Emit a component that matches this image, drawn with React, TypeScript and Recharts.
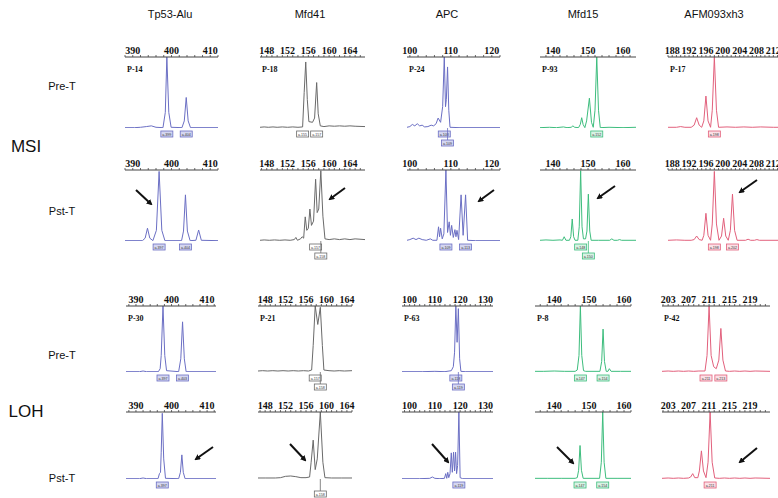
import React from 'react';
import { LineChart, Line, XAxis, YAxis, ReferenceDot } from 'recharts';

type Pt = [number, number];

// ---------- text ----------
const markers = ['Tp53-Alu', 'Mfd41', 'APC', 'Mfd15', 'AFM093xh3'];
const rowLabels = ['Pre-T', 'Pst-T', 'Pre-T', 'Pst-T'];
const groupLabels = ['MSI', 'LOH'];
const patients = ['P-14', 'P-18', 'P-24', 'P-93', 'P-17', 'P-30', 'P-21', 'P-63', 'P-8', 'P-42'];

// ---------- tick labels ----------
const ticksTp53 = [390, 400, 410];
const ticksMfd41 = [148, 152, 156, 160, 164];
const ticksApcMsi = [100, 110, 120];
const ticksApcLoh = [100, 110, 120, 130];
const ticksMfd15 = [140, 150, 160];
const ticksAfmMsi = [188, 192, 196, 200, 204, 208, 212];
const ticksAfmLoh = [203, 207, 211, 215, 219];

// ---------- traces (size in bp, relative fluorescence 0-100) ----------
const msiPreTp53: Pt[] = [[388,0.5],[390.5,0.5],[392,1],[393.5,2],[394.8,3],[396,1],[397.8,0.5],[398.4,22],[398.8,100],[399.3,22],[399.9,1],[402.7,0.5],[403.3,10],[403.8,43],[404.3,10],[404.9,0.5],[412,0.5]];
const msiPreMfd41: Pt[] = [[146.7,1],[147.5,1.5],[148.3,1],[149.2,1.5],[150,1],[151,1.5],[152,1],[153,1.5],[154,1],[154.9,1.5],[155.2,50],[155.5,93],[155.8,40],[156.1,9],[156.8,8],[157.2,14],[157.6,64],[157.9,20],[158.3,3],[159,2],[160,3],[161,2.5],[162,3],[163,2.5],[164,3],[165,2.5],[166.9,2]];
const msiPreApc: Pt[] = [[99.3,1],[100,2],[100.6,5],[101.2,3],[101.8,6],[102.4,3],[103,4],[103.6,1.5],[104.4,2],[105.2,4],[105.8,3],[106.4,6],[106.9,14],[107.5,8],[108.0,30],[108.4,100],[108.7,30],[108.9,40],[109.2,86],[109.5,25],[109.8,1],[112,0.5],[122,0.5]];
const msiPreMfd15: Pt[] = [[136.3,0.5],[139,1],[141,0.5],[143,1.5],[144,0.5],[145.2,1],[145.7,3],[146.2,1],[147.3,0.5],[147.8,5],[148.2,14.5],[148.6,5],[149.1,0.5],[149.6,10],[150.4,42],[151,8],[151.5,1],[152,25],[152.5,100],[153,25],[153.5,0.5],[156,1],[160,0.5],[163.7,1]];
const msiPreAfm: Pt[] = [[187,1],[189,1],[190,2],[191,1],[192.5,1],[193.2,4],[193.8,14.5],[194.4,4],[195,1],[195.5,10],[196,45],[196.5,10],[197.1,1],[197.5,25],[198,100],[198.5,25],[199,1],[201,1.5],[203,1],[205,1.5],[207,1],[209,1.5],[212,1],[215,1]];

const msiPstTp53: Pt[] = [[388,0.5],[392.5,0.5],[393.2,4],[393.8,18],[394.4,4],[395.2,0.5],[396.1,15],[396.8,98],[397.5,15],[398.3,0.5],[402.6,0.5],[403.1,14],[403.6,65],[404.1,14],[404.8,0.5],[406.3,1],[407,15.5],[407.7,1],[412,0.5]];
const msiPstMfd41: Pt[] = [[146.7,1],[147.5,1.5],[148.5,1],[149.5,1.5],[150.5,1],[151.5,1.5],[152.5,1],[153.3,2],[153.6,5],[153.9,1],[154.5,3],[154.8,6],[155.1,4],[155.4,34],[155.7,15],[156,18],[156.3,45],[156.6,22],[157,28],[157.4,87],[157.7,40],[158,45],[158.4,99],[158.8,35],[159.2,3],[160,2],[161,3],[162,2],[163,3],[164,2],[165,3],[166.9,2]];
const msiPstApc: Pt[] = [[99.3,1],[100,2],[100.8,4],[101.5,2],[102.2,4],[103,2],[104,1],[105,3],[105.6,1],[106.6,1],[107,20],[107.25,6],[107.5,18],[107.9,3],[108.3,10],[108.8,100],[109.2,12],[109.6,27],[109.9,8],[110.2,22],[110.6,5],[111,16],[111.25,6],[111.5,15],[111.9,2],[112.5,65],[113,8],[113.6,65],[114.1,1],[116,0.5],[122,0.5]];
const msiPstMfd15: Pt[] = [[136.3,1],[138,1.5],[140,1],[142,1.5],[142.7,1],[143.2,6],[143.7,1],[144.7,1],[145.1,6],[145.5,31],[145.9,6],[146.3,1],[147.1,1],[147.5,20],[147.9,99],[148.3,20],[148.7,3],[149.3,3],[149.7,14],[150.1,66],[150.5,14],[150.9,1],[153,1],[156.2,1],[156.8,3],[157.4,1],[158.4,1],[159,2],[159.6,1],[163.7,1]];
const msiPstAfm: Pt[] = [[187,1],[189,1.5],[191,1],[192.5,1],[193.2,2],[193.8,7],[194.4,2],[195.1,1],[195.5,8],[196,39],[196.5,8],[197.1,1],[197.5,24],[198,98],[198.5,24],[199.1,1],[199.7,7],[200.2,32],[200.7,7],[201.3,1],[201.8,15],[202.3,66],[202.8,15],[203.4,1],[205.4,1],[206,2.5],[206.6,1],[207.5,1],[208.1,2],[208.7,1],[215,1]];

const lohPreTp53: Pt[] = [[387.2,0.5],[391,0.5],[392,1.5],[393,0.5],[396.3,0.5],[396.8,5],[397.1,25],[397.6,100],[398.1,25],[398.6,2],[402,0.5],[402.6,20],[403.1,76],[403.6,20],[404.1,0.5],[412.5,0.5]];
const lohPreMfd41: Pt[] = [[146.6,1.5],[147.5,2],[148.5,1.5],[149.5,2],[150.5,1.5],[151.5,2],[152.5,1.5],[153.5,2],[154.5,1.5],[155.5,2],[156.5,1.5],[157.1,3],[157.4,40],[157.8,100],[158.3,72],[158.8,98],[159.2,40],[159.5,3],[160.5,2],[161.5,1.5],[162.5,2],[163.5,1.5],[165,2]];
const lohPreApc: Pt[] = [[97,0.5],[105,0.5],[110,1],[114,0.5],[116.5,2],[117.3,8],[117.8,30],[118.3,100],[118.8,45],[119.3,96],[119.8,20],[120.3,1],[122,0.5],[133,0.5]];
const lohPreMfd15: Pt[] = [[134.5,1],[137,1],[140,1.5],[143,1],[146,1],[146.6,3],[147.1,25],[147.5,100],[147.9,25],[148.4,2],[149,1],[153.1,1],[153.6,16],[154,65],[154.4,16],[154.9,1],[155.4,1],[155.8,5],[156.3,1],[159,1],[162,1]];
const lohPreAfm: Pt[] = [[201.8,1],[203,1.5],[204,1],[205,1.5],[206,1],[207,1.5],[208,1],[209,1.5],[210.2,1.5],[210.6,25],[211,100],[211.4,25],[211.9,8],[212.4,5],[212.9,18],[213.3,66],[213.7,18],[214.2,1.5],[215,1],[216,1.5],[217,1],[218,1.5],[219,1],[220,1.5],[222.9,1]];

const lohPstTp53: Pt[] = [[387.2,0.5],[391,0.5],[392,1.5],[393,0.5],[396.2,0.5],[396.6,8],[396.9,10],[397.1,40],[397.4,98],[397.8,30],[398.3,1],[402,0.5],[402.5,10],[402.9,36],[403.3,10],[403.8,0.5],[412.5,0.5]];
const lohPstMfd41: Pt[] = [[146.6,1.5],[148,1.5],[150,1.5],[151,2],[152,4],[153,4.5],[154,3.5],[155,2],[156,2],[156.7,3],[157.0,25],[157.4,58],[157.8,14],[158.2,30],[158.8,100],[159.3,25],[159.7,2],[161,1.5],[163,1.5],[165,1.5]];
const lohPstApc: Pt[] = [[97,0.5],[104,0.5],[108,1],[109,3],[110,1],[112,0.5],[113.8,1],[114.3,8],[114.7,1],[115.1,10],[115.5,2],[116.0,8],[116.5,39],[116.9,10],[117.4,40],[117.8,12],[118.2,40],[118.6,8],[119.0,20],[119.5,100],[120,2],[121,0.5],[133,0.5]];
const lohPstMfd15: Pt[] = [[134.5,1],[138,1],[142,1],[146,1],[146.6,2],[147,13],[147.4,50],[147.8,13],[148.3,1],[153,1],[153.5,25],[153.9,100],[154.3,25],[154.8,1],[158,1],[162,1]];
const lohPstAfm: Pt[] = [[201.8,1],[203,1.5],[204,1],[205,1.5],[206,1],[207,1.5],[207.4,3],[207.8,8],[208.2,2],[208.8,2],[209.1,12],[209.5,42],[209.9,12],[210.4,2],[210.8,25],[211.2,100],[211.6,25],[212.1,1.5],[213,1],[214,1.5],[215,1],[216,1.5],[217,1],[218,1.5],[219,1],[220,1.5],[222.9,1]];

// ---------- allele calls (bp) ----------
type Call = { x: number; lvl: number; txt: string };
const callsMsiPre: Call[][] = [
  [{ x: 398.8, lvl: 0, txt: 'a.399' }, { x: 403.8, lvl: 0, txt: 'a.404' }],
  [{ x: 154.9, lvl: 0, txt: 'a.155' }, { x: 157.6, lvl: 0, txt: 'a.157' }],
  [{ x: 108.4, lvl: 0, txt: 'a.108' }, { x: 109.2, lvl: 1, txt: 'a.109' }],
  [{ x: 152.5, lvl: 0, txt: 'a.152' }],
  [{ x: 198, lvl: 0, txt: 'a.198' }],
];
const callsMsiPst: Call[][] = [
  [{ x: 396.8, lvl: 0, txt: 'a.397' }, { x: 403.6, lvl: 0, txt: 'a.404' }],
  [{ x: 157.4, lvl: 0, txt: 'a.157' }, { x: 158.4, lvl: 1, txt: 'a.158' }],
  [{ x: 108.8, lvl: 0, txt: 'a.109' }, { x: 113.6, lvl: 0, txt: 'a.113' }],
  [{ x: 147.9, lvl: 0, txt: 'a.148' }, { x: 150.1, lvl: 1, txt: 'a.150' }],
  [{ x: 198, lvl: 0, txt: 'a.198' }, { x: 202.3, lvl: 0, txt: 'a.202' }],
];
const callsLohPre: Call[][] = [
  [{ x: 397.6, lvl: 0, txt: 'a.397' }, { x: 403.1, lvl: 0, txt: 'a.403' }],
  [{ x: 157.8, lvl: 0, txt: 'a.157' }, { x: 158.8, lvl: 1, txt: 'a.158' }],
  [{ x: 118.3, lvl: 0, txt: 'a.118' }, { x: 119.3, lvl: 1, txt: 'a.119' }],
  [{ x: 147.5, lvl: 0, txt: 'a.147' }, { x: 154, lvl: 0, txt: 'a.154' }],
  [{ x: 210.4, lvl: 0, txt: 'a.211' }, { x: 213.3, lvl: 0, txt: 'a.213' }],
];
const callsLohPst: Call[][] = [
  [{ x: 397.4, lvl: 0, txt: 'a.397' }],
  [{ x: 158.8, lvl: 1, txt: 'a.158' }],
  [{ x: 119.5, lvl: 0, txt: 'a.119' }],
  [{ x: 147.4, lvl: 0, txt: 'a.147' }, { x: 153.9, lvl: 0, txt: 'a.154' }],
  [{ x: 211.2, lvl: 0, txt: 'a.211' }],
];

// ---------- layout / styles ----------
const colors = ['#6b6fc4', '#6a6a6a', '#6b6fc4', '#3dbd7d', '#e2607c'];
const boxFills = ['#d4d6f0', '#ffffff', '#d4d6f0', '#d8f2e4', '#fbe0e6'];

type ColGeo = { left: number; width: number; domain: [number, number]; majors: number[]; step: number };
const colsMsi: ColGeo[] = [
  { left: 125, width: 93, domain: [388, 412], majors: ticksTp53, step: 2 },
  { left: 260, width: 105, domain: [146.7, 166.9], majors: ticksMfd41, step: 1 },
  { left: 407, width: 93, domain: [99.3, 122], majors: ticksApcMsi, step: 2 },
  { left: 540, width: 96, domain: [136.3, 163.7], majors: ticksMfd15, step: 2 },
  { left: 668, width: 118, domain: [187, 215], majors: ticksAfmMsi, step: 1 },
];
const colsLoh: ColGeo[] = [
  { left: 126, width: 90, domain: [387.2, 412.5], majors: ticksTp53, step: 2 },
  { left: 258, width: 94, domain: [146.6, 165], majors: ticksMfd41, step: 1 },
  { left: 402, width: 91, domain: [97, 133], majors: ticksApcLoh, step: 2 },
  { left: 535, width: 96, domain: [134.5, 162], majors: ticksMfd15, step: 2 },
  { left: 662, width: 108, domain: [201.8, 222.9], majors: ticksAfmLoh, step: 1 },
];
const rowsGeo = [
  { axisY: 57, plotH: 71, cols: colsMsi, traces: [msiPreTp53, msiPreMfd41, msiPreApc, msiPreMfd15, msiPreAfm], calls: callsMsiPre, pl: 0 },
  { axisY: 170, plotH: 71, cols: colsMsi, traces: [msiPstTp53, msiPstMfd41, msiPstApc, msiPstMfd15, msiPstAfm], calls: callsMsiPst, pl: -1 },
  { axisY: 306, plotH: 66, cols: colsLoh, traces: [lohPreTp53, lohPreMfd41, lohPreApc, lohPreMfd15, lohPreAfm], calls: callsLohPre, pl: 5 },
  { axisY: 412, plotH: 67, cols: colsLoh, traces: [lohPstTp53, lohPstMfd41, lohPstApc, lohPstMfd15, lohPstAfm], calls: callsLohPst, pl: -1 },
];
const headerX = [170, 310, 447, 583, 714];
const rowLabelY = [86, 211, 355, 478];
const groupLabelY = [147, 412];
const arrows: [number, number, number, number][] = [
  [136, 190, 151, 204], [345, 188, 330, 199], [494, 190, 479, 201], [615, 186, 598, 198], [757, 180, 740, 192],
  [213, 447, 196, 459], [290, 444, 305, 460], [432, 444, 448, 462], [557, 447, 573, 463], [757, 448, 740, 462],
];

const TOP = 14;
const BOTTOM = 22;
const PAD = 12;

function minorTicks(domain: [number, number], step: number): number[] {
  const out: number[] = [];
  const start = Math.ceil(domain[0] / step) * step;
  for (let v = start; v <= domain[1] + 1e-9; v += step) out.push(Math.round(v * 100) / 100);
  return out;
}

function Panel(props: { geo: ColGeo; axisY: number; plotH: number; color: string; fill: string; trace: Pt[]; calls: Call[]; label?: string }) {
  const { geo, axisY, plotH, color, fill, trace, calls, label } = props;
  const data = trace.map(([x, y]) => ({ x, y }));
  const ticks = minorTicks(geo.domain, geo.step);
  const majorSet = new Set(geo.majors);
  const height = TOP + plotH + BOTTOM;
  const width = geo.width + 2 * PAD;
  return (
    <div style={{ position: 'absolute', left: geo.left - PAD, top: axisY - TOP, width, height }}>
      <LineChart width={width} height={height} data={data} margin={{ top: 0, right: PAD, bottom: BOTTOM, left: PAD }}>
        <XAxis
          dataKey="x"
          type="number"
          orientation="top"
          height={TOP}
          domain={geo.domain}
          allowDataOverflow
          ticks={ticks}
          interval={0}
          tickSize={2}
          tickMargin={1}
          tickFormatter={(v: number) => (majorSet.has(v) ? String(v) : '')}
          axisLine={{ stroke: '#444', strokeWidth: 1 }}
          tickLine={{ stroke: '#444', strokeWidth: 0.8 }}
          tick={{ fill: '#111', fontSize: 10, fontWeight: 'bold', fontFamily: 'Liberation Serif, serif' }}
        />
        <YAxis hide type="number" domain={[0, 100]} allowDataOverflow />
        <Line dataKey="y" type="linear" stroke={color} strokeWidth={1} dot={false} isAnimationActive={false} />
        {calls.map((c, i) => (
          <ReferenceDot
            key={i}
            x={c.x}
            y={0}
            r={0}
            ifOverflow="visible"
            shape={(p: any) => {
              const dy = 3 + c.lvl * 9;
              return (
                <g>
                  {c.lvl > 0 && <line x1={p.cx} x2={p.cx} y1={p.cy} y2={p.cy + dy} stroke={color} strokeWidth={0.8} />}
                  <rect x={p.cx - 6} y={p.cy + dy} width={12} height={6} fill={fill} stroke={color} strokeWidth={0.8} />
                  <text x={p.cx} y={p.cy + dy + 4.6} fontSize={3.6} textAnchor="middle" fill="#333" fontFamily="Liberation Sans, sans-serif">{c.txt}</text>
                </g>
              );
            }}
          />
        ))}
      </LineChart>
      {label && (
        <div style={{ position: 'absolute', left: PAD + 2, top: TOP + 8, fontFamily: 'Liberation Serif, serif', fontWeight: 'bold', fontSize: 8, lineHeight: '10px', color: '#111' }}>{label}</div>
      )}
    </div>
  );
}

export default function App() {
  return (
    <div style={{ position: 'absolute', left: 0, top: 0, width: 778, height: 498, overflow: 'hidden', background: '#fff' }}>
      {markers.map((m, i) => (
        <div key={m} style={{ position: 'absolute', left: headerX[i] - 50, top: 7, width: 100, textAlign: 'center', fontFamily: 'Liberation Sans, Arial, sans-serif', fontSize: 11, lineHeight: '14px', color: '#111' }}>{m}</div>
      ))}
      {rowLabels.map((r, i) => (
        <div key={i} style={{ position: 'absolute', left: 32, top: rowLabelY[i] - 7, width: 60, textAlign: 'center', fontFamily: 'Liberation Sans, Arial, sans-serif', fontSize: 11, lineHeight: '14px', color: '#111' }}>{r}</div>
      ))}
      {groupLabels.map((g, i) => (
        <div key={g} style={{ position: 'absolute', left: 0, top: groupLabelY[i] - 10, width: 52, textAlign: 'center', fontFamily: 'Liberation Sans, Arial, sans-serif', fontSize: 17, lineHeight: '20px', color: '#111' }}>{g}</div>
      ))}
      {rowsGeo.map((row, ri) =>
        row.cols.map((geo, ci) => (
          <Panel
            key={`${ri}-${ci}`}
            geo={geo}
            axisY={row.axisY}
            plotH={row.plotH}
            color={colors[ci]}
            fill={boxFills[ci]}
            trace={row.traces[ci]}
            calls={row.calls[ci]}
            label={row.pl >= 0 ? patients[row.pl + ci] : undefined}
          />
        ))
      )}
      <svg width={778} height={498} style={{ position: 'absolute', left: 0, top: 0, pointerEvents: 'none' }}>
        <defs>
          <marker id="ah" markerWidth="6" markerHeight="6" refX="4" refY="3" orient="auto" markerUnits="userSpaceOnUse">
            <path d="M0,0 L6,3 L0,6 Z" fill="#111" />
          </marker>
        </defs>
        {arrows.map(([x1, y1, x2, y2], i) => (
          <line key={i} x1={x1} y1={y1} x2={x2} y2={y2} stroke="#111" strokeWidth={2} markerEnd="url(#ah)" />
        ))}
      </svg>
    </div>
  );
}
